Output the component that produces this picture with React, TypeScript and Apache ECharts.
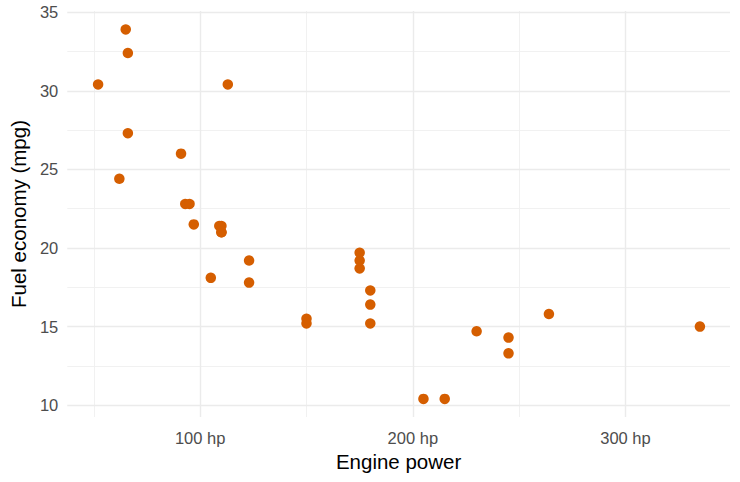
import { useEffect, useRef } from "react";
import * as echarts from "echarts";

// mtcars: horsepower vs miles per gallon
const horsepower = [
  110, 110, 93, 110, 175, 105, 245, 62, 95, 123, 123, 180, 180, 180, 205, 215,
  230, 66, 52, 65, 97, 150, 150, 245, 175, 66, 91, 113, 264, 175, 335, 109,
];
const mpg = [
  21.0, 21.0, 22.8, 21.4, 18.7, 18.1, 14.3, 24.4, 22.8, 19.2, 17.8, 16.4, 17.3,
  15.2, 10.4, 10.4, 14.7, 32.4, 30.4, 33.9, 21.5, 15.5, 15.2, 13.3, 19.2, 27.3,
  26.0, 30.4, 15.8, 19.7, 15.0, 21.4,
];
const xMajor = [100, 200, 300];
const xMinor = [50, 150, 250];
const yMajor = [10, 15, 20, 25, 30, 35];
const yMinor = [12.5, 17.5, 22.5, 27.5, 32.5];

const FONT = "'Liberation Sans', Arial, sans-serif";
const POINT_COLOR = "#D55E00";

function isNear(v: number, list: number[]) {
  return list.some((t) => Math.abs(v - t) < 1e-6);
}

export default function App() {
  const ref = useRef<HTMLDivElement>(null);

  useEffect(() => {
    document.body.style.margin = "0";
    if (!ref.current) return;
    const chart = echarts.init(ref.current, undefined, { renderer: "svg" });

    const minor = { color: "#EFEFEF", width: 0.9, type: "solid" };
    const major = { color: "#EBEBEB", width: 1.4, type: "solid" };
    const gridData = [
      ...xMinor.map((v) => ({ xAxis: v, lineStyle: minor })),
      ...yMinor.map((v) => ({ yAxis: v, lineStyle: minor })),
      ...xMajor.map((v) => ({ xAxis: v, lineStyle: major })),
      ...yMajor.map((v) => ({ yAxis: v, lineStyle: major })),
    ];

    chart.setOption({
      animation: false,
      backgroundColor: "#FFFFFF",
      textStyle: { fontFamily: FONT },
      grid: { left: 66, right: 10, top: 11, bottom: 65, containLabel: false },
      xAxis: {
        type: "value",
        min: 37.5,
        max: 349.15,
        interval: 12.5,
        name: "Engine power",
        nameLocation: "middle",
        nameGap: 33,
        nameTextStyle: { fontSize: 20.5, color: "#000000", fontFamily: FONT },
        axisLine: { show: false },
        axisTick: { show: false },
        splitLine: { show: false },
        axisLabel: {
          margin: 12,
          fontSize: 16.5,
          color: "#4D4D4D",
          fontFamily: FONT,
          formatter: (v: number) => (isNear(v, xMajor) ? `${Math.round(v)} hp` : ""),
        },
      },
      yAxis: {
        type: "value",
        min: 9.25,
        max: 35.075,
        interval: 0.25,
        name: "Fuel economy (mpg)",
        nameLocation: "middle",
        nameGap: 36,
        nameRotate: 90,
        nameTextStyle: { fontSize: 20.5, color: "#000000", fontFamily: FONT },
        axisLine: { show: false },
        axisTick: { show: false },
        splitLine: { show: false },
        axisLabel: {
          margin: 9,
          fontSize: 16.5,
          color: "#4D4D4D",
          fontFamily: FONT,
          formatter: (v: number) => (isNear(v, yMajor) ? `${Math.round(v)}` : ""),
        },
      },
      series: [
        {
          type: "scatter",
          data: [],
          z: 1,
          silent: true,
          markLine: {
            silent: true,
            z: 1,
            symbol: "none",
            label: { show: false },
            emphasis: { disabled: true },
            animation: false,
            data: gridData,
          },
        },
        {
          type: "scatter",
          z: 3,
          symbolSize: 10.5,
          itemStyle: { color: POINT_COLOR, opacity: 1 },
          data: horsepower.map((hp, i) => [hp, mpg[i]]),
        },
      ],
    });

    return () => chart.dispose();
  }, []);

  return <div ref={ref} style={{ width: 740, height: 482 }} />;
}
